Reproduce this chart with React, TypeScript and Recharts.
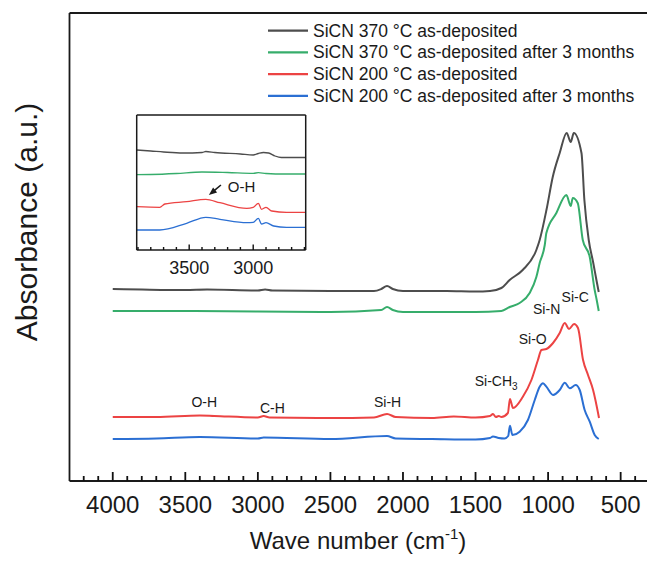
import React from 'react';
import { LineChart, Line, XAxis, YAxis, ReferenceDot, Legend } from 'recharts';

const FONT = '"Liberation Sans", Arial, Helvetica, sans-serif';
const INK = '#1a1a1a';

// ---------- series ----------
const seriesNames = [
  'SiCN 370 °C as-deposited',
  'SiCN 370 °C as-deposited after 3 months',
  'SiCN 200 °C as-deposited',
  'SiCN 200 °C as-deposited after 3 months',
];
const seriesColors = ['#4d4d4d', '#36ad6b', '#ec4343', '#2b6fd3'];

// ---------- main spectrum (wavenumber cm-1, absorbance a.u. with offset) ----------
const grayWave = [4000, 3800, 3500, 3350, 3000, 2950, 2900, 2500, 2200, 2150, 2110, 2070, 2000, 1700, 1500, 1400, 1322, 1265, 1175, 1081, 1058, 1010, 968, 920, 872, 844, 823, 770, 750, 720, 690, 667, 651];
const grayAbs = [192, 191.5, 191, 191.5, 190.5, 191.5, 190.5, 190, 190, 192, 195, 192, 190, 190, 189.5, 190, 193, 201, 211, 231, 241, 272, 304, 328, 348, 339, 348, 328, 281, 241, 219, 201, 189];

const greenWave = [4000, 3500, 3000, 2500, 2150, 2110, 2070, 2000, 1500, 1322, 1265, 1196, 1127, 1081, 1058, 1023, 1012, 943, 874, 844, 830, 796, 761, 713, 679, 665, 651];
const greenAbs = [170, 170, 169.5, 169, 171, 174, 171, 169, 169, 170, 174, 178, 188, 204, 218, 236, 248, 268, 286, 275, 283, 278, 241, 224, 191, 181, 170];

const redWave = [4000, 3700, 3400, 3300, 3000, 2960, 2920, 2500, 2200, 2110, 2050, 1800, 1650, 1500, 1400, 1380, 1360, 1340, 1322, 1277, 1263, 1242, 1175, 1115, 1070, 1046, 1012, 966, 920, 885, 856, 821, 794, 759, 725, 690, 649];
const redAbs = [64, 64, 65.5, 65, 63.5, 65, 63.5, 63, 63.5, 67, 64, 63, 64.5, 63.5, 65, 67, 64, 65, 64, 68, 82, 73, 84, 101, 121, 131, 132, 138, 148, 158, 152, 157, 153, 121, 106, 91, 63];

const blueWave = [4000, 3700, 3400, 3000, 2960, 2500, 2110, 2050, 1800, 1500, 1400, 1380, 1340, 1300, 1275, 1263, 1246, 1196, 1139, 1092, 1058, 1035, 1012, 966, 920, 885, 851, 810, 782, 748, 713, 679, 651];
const blueAbs = [42, 42.5, 44, 42.5, 43.5, 42, 45, 42.5, 42, 41.5, 43, 44.5, 43, 42.5, 45, 55.3, 46, 49.3, 61, 81, 94.3, 97.7, 94.3, 86, 91, 98.3, 92.7, 96, 91, 71, 59.3, 46, 42];

// ---------- inset (3910-2590 cm-1, magnified) ----------
const inGrayWave = [3910, 3800, 3700, 3550, 3400, 3370, 3300, 3100, 3000, 2960, 2920, 2880, 2830, 2780, 2590];
const inGrayAbs = [100, 99, 98, 97, 97.5, 98.5, 97.5, 96, 95, 96.5, 97.5, 97, 94, 92.5, 92.5];
const inGreenWave = [3910, 3800, 3600, 3400, 3200, 3000, 2960, 2900, 2750, 2590];
const inGreenAbs = [75.3, 75.5, 76.5, 78, 77.5, 76.7, 77.3, 76.5, 76, 76];
const inRedWave = [3910, 3730, 3690, 3520, 3370, 3260, 3050, 3000, 2960, 2935, 2900, 2855, 2740, 2590];
const inRedAbs = [43.3, 42.7, 46, 48.3, 50.7, 47.3, 41.7, 42.7, 46.7, 40.7, 42.7, 39, 37.7, 37.7];
const inBlueWave = [3910, 3730, 3520, 3370, 3260, 3050, 3000, 2960, 2935, 2900, 2840, 2740, 2590];
const inBlueAbs = [20, 20, 26.7, 32.7, 30.7, 27.3, 27.7, 31.7, 26, 27.3, 24, 22.7, 22.7];

// ---------- axes ----------
const mainMajorTicks = [4000, 3500, 3000, 2500, 2000, 1500, 1000, 500];
const mainDomain: [number, number] = [284, 4298];
const insetMajorTicks = [3500, 3000];
const insetDomain: [number, number] = [2590, 3910];

const minorTicks = (lo: number, hi: number) => {
  const out: number[] = [];
  for (let t = lo; t <= hi; t += 100) out.push(t);
  return out;
};
const mainTicks = minorTicks(300, 4200);
const insetTicks = minorTicks(2600, 3900);

// ---------- band annotations ----------
const bandLabels = ['O-H', 'C-H', 'Si-H', 'Si-CH3', 'Si-O', 'Si-N', 'Si-C'];
const bandWave = [3369, 2900, 2106, 1358, 1106, 1010, 813];
const bandAbs = [79, 73, 79, 100, 142, 172, 184];

const zip = (w: number[], v: number[]) => w.map((x, i) => ({ w: x, v: v[i] }));
const mainData = [zip(grayWave, grayAbs), zip(greenWave, greenAbs), zip(redWave, redAbs), zip(blueWave, blueAbs)];
const insetData = [zip(inGrayWave, inGrayAbs), zip(inGreenWave, inGreenAbs), zip(inRedWave, inRedAbs), zip(inBlueWave, inBlueAbs)];

// tick component: inward tick mark (drawn as a filled rect) plus label for major values
const makeTick = (majors: number[], majorLen: number, minorLen: number, w: number, fontSize: number, dy: number) => (props: any) => {
  const { x, y, payload } = props;
  const major = majors.includes(payload.value);
  const len = major ? majorLen : minorLen;
  return (
    <g>
      <rect x={x - w / 2} y={y - len} width={w} height={len} fill="#111" stroke="none" />
      {major && (
        <text x={x} y={y + dy} textAnchor="middle" fontSize={fontSize} fontFamily={FONT} fill={INK}>
          {payload.value}
        </text>
      )}
    </g>
  );
};
const MainTick = makeTick(mainMajorTicks, 9, 5, 1.8, 24, 32);
const InsetTick = makeTick(insetMajorTicks, 5.5, 3, 1.4, 18, 24);

const XLabel = (props: any) => {
  const vb = props.viewBox || { x: 69.5, y: 481, width: 582.5 };
  const cx = vb.x + 288.5;
  return (
    <text x={cx} y={vb.y + 68} textAnchor="middle" fontSize={24} fontFamily={FONT} fill={INK}>
      Wave number (cm
      <tspan dy={-10} fontSize={15}>-1</tspan>
      <tspan dy={10}>)</tspan>
    </text>
  );
};

const YLabel = (props: any) => {
  const vb = props.viewBox || { x: 0, y: 13 };
  const bx = vb.x + 37;
  const by = vb.y + 209;
  return (
    <text x={bx} y={by} transform={`rotate(-90 ${bx} ${by})`} textAnchor="middle" fontSize={30} fontFamily={FONT} fill={INK}>
      Absorbance (a.u.)
    </text>
  );
};

const LegendContent = () => (
  <svg width={385} height={92} style={{ display: 'block' }}>
    {seriesNames.map((name, i) => {
      const cy = 10.7 + i * 21.7;
      return (
        <g key={name}>
          <line x1={3} x2={43} y1={cy} y2={cy} stroke={seriesColors[i]} strokeWidth={2.2} />
          <text x={48} y={cy + 6} fontSize={17.5} fontFamily={FONT} fill={INK}>
            {name}
          </text>
        </g>
      );
    })}
  </svg>
);

const bandShape = (label: string) => (p: any) => {
  const { cx, cy } = p;
  if (label === 'Si-CH3') {
    return (
      <text x={cx} y={cy + 5} textAnchor="middle" fontSize={14} fontFamily={FONT} fill={INK}>
        Si-CH
        <tspan dy={4} fontSize={10}>3</tspan>
      </text>
    );
  }
  return (
    <text x={cx} y={cy + 5} textAnchor="middle" fontSize={14} fontFamily={FONT} fill={INK}>
      {label}
    </text>
  );
};

const ArrowShape = (p: any) => {
  const { cx, cy } = p;
  return (
    <g>
      <line x1={cx + 12} y1={cy - 10} x2={cx + 5} y2={cy - 4.2} stroke={INK} strokeWidth={1.6} />
      <path d={`M${cx},${cy} L${cx + 8.2},${cy - 2.6} L${cx + 4.2},${cy - 7.6} Z`} fill={INK} />
    </g>
  );
};

const OHShape = (p: any) => (
  <text x={p.cx} y={p.cy + 5.5} fontSize={15} fontFamily={FONT} fill={INK}>
    O-H
  </text>
);

const frame = { stroke: INK, strokeWidth: 1.8 };
const insetFrame = { stroke: INK, strokeWidth: 1.5 };

export default function App() {
  return (
    <div style={{ position: 'absolute', left: 0, top: 0, width: 647, height: 561, overflow: 'hidden', background: '#fff' }}>
      <div style={{ position: 'absolute', left: 0, top: 0 }}>
        <LineChart width={652} height={561} margin={{ top: 12, right: 0, bottom: 30, left: 0 }}>
          <XAxis
            type="number"
            dataKey="w"
            domain={mainDomain}
            reversed
            allowDataOverflow
            ticks={mainTicks}
            interval={0}
            tickSize={0}
            tickMargin={0}
            tickLine={false}
            axisLine={frame}
            height={50}
            tick={<MainTick />}
            label={<XLabel />}
          />
          <XAxis xAxisId="top" orientation="top" type="number" dataKey="w" domain={mainDomain} reversed allowDataOverflow height={1} tick={false} tickLine={false} axisLine={frame} />
          <YAxis type="number" domain={[0, 468]} allowDataOverflow width={69.5} tick={false} tickLine={false} axisLine={frame} label={<YLabel />} />
          {mainData.map((d, i) => (
            <Line
              key={seriesNames[i]}
              data={d}
              dataKey="v"
              name={seriesNames[i]}
              type="monotone"
              stroke={seriesColors[i]}
              strokeWidth={2}
              dot={false}
              activeDot={false}
              isAnimationActive={false}
            />
          ))}
          {bandLabels.map((lab, i) => (
            <ReferenceDot key={lab} x={bandWave[i]} y={bandAbs[i]} r={0} ifOverflow="visible" shape={bandShape(lab)} />
          ))}
          <Legend layout="vertical" align="center" verticalAlign="middle" content={<LegendContent />} wrapperStyle={{ left: 265, top: 20, width: 385, height: 92 }} />
        </LineChart>
      </div>
      <div style={{ position: 'absolute', left: 120, top: 100 }}>
        <LineChart width={200} height={190} margin={{ top: 14, right: 13.3, bottom: 10, left: 15.7 }}>
          <XAxis
            type="number"
            dataKey="w"
            domain={insetDomain}
            reversed
            allowDataOverflow
            ticks={insetTicks}
            interval={0}
            tickSize={0}
            tickMargin={0}
            tickLine={false}
            axisLine={insetFrame}
            height={30}
            tick={<InsetTick />}
          />
          <XAxis xAxisId="top" orientation="top" type="number" dataKey="w" domain={insetDomain} reversed allowDataOverflow height={1} tick={false} tickLine={false} axisLine={insetFrame} />
          <YAxis type="number" domain={[0, 135]} allowDataOverflow width={1} tick={false} tickLine={false} axisLine={insetFrame} />
          <YAxis yAxisId="r" orientation="right" type="number" domain={[0, 135]} allowDataOverflow width={1} tick={false} tickLine={false} axisLine={insetFrame} />
          {insetData.map((d, i) => (
            <Line
              key={seriesNames[i]}
              data={d}
              dataKey="v"
              name={seriesNames[i]}
              type="monotone"
              stroke={seriesColors[i]}
              strokeWidth={1.3}
              dot={false}
              activeDot={false}
              isAnimationActive={false}
            />
          ))}
          <ReferenceDot x={3346} y={55} r={0} ifOverflow="visible" shape={ArrowShape} />
          <ReferenceDot x={3198} y={64} r={0} ifOverflow="visible" shape={OHShape} />
        </LineChart>
      </div>
    </div>
  );
}
